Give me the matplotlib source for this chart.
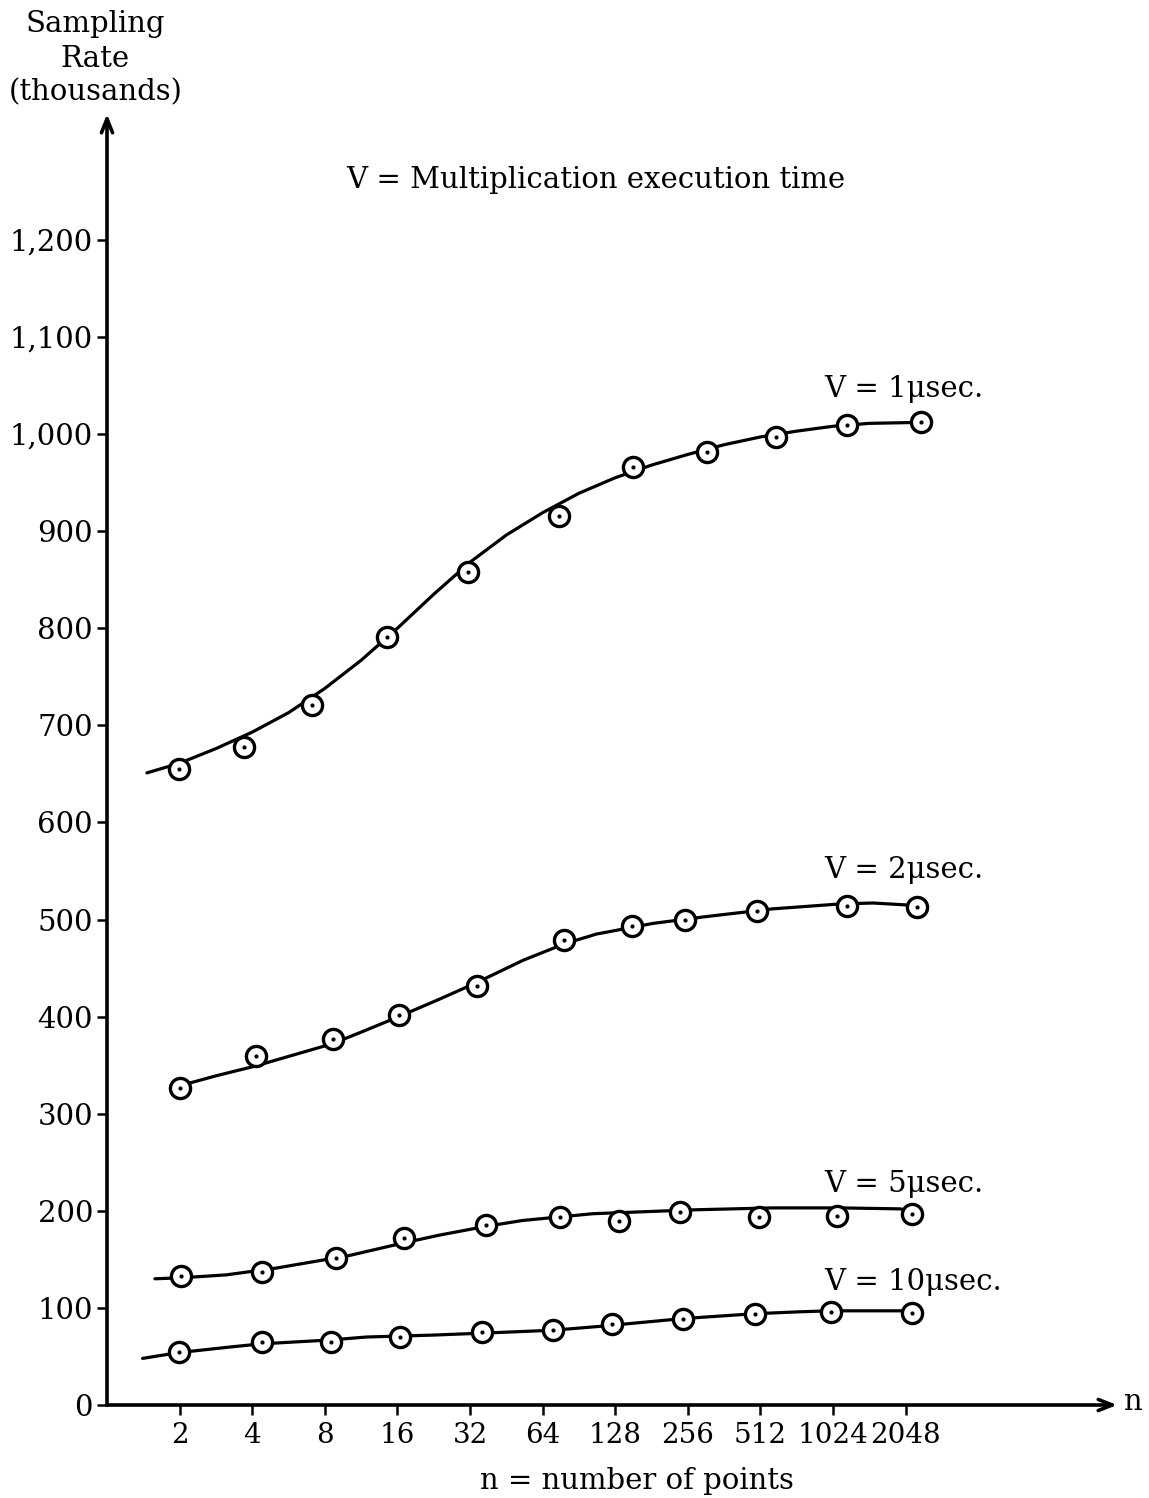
import matplotlib
matplotlib.use("Agg")
import matplotlib.pyplot as plt

# ---------------- data ----------------
n_labels = ["2", "4", "8", "16", "32", "64", "128", "256", "512", "1024", "2048"]
y_ticks = [0, 100, 200, 300, 400, 500, 600, 700, 800, 900, 1000, 1100, 1200]
y_tick_labels = ["0", "100", "200", "300", "400", "500", "600", "700", "800",
                 "900", "1,000", "1,100", "1,200"]

# x values are positions along the n axis, in tick-index units (2 -> 1, 4 -> 2, ... 2048 -> 11)
v1_x = [0.99, 1.88, 2.82, 3.85, 4.97, 6.22, 7.24, 8.26, 9.21, 10.19, 11.21]
v1_y = [655, 678, 721, 791, 858, 916, 966, 981, 997, 1009, 1012]
v1_curve_x = [0.55, 1.0, 1.5, 2.0, 2.5, 3.0, 3.5, 4.0, 4.5, 5.0, 5.5, 6.0, 6.5,
              7.0, 7.5, 8.0, 8.5, 9.0, 9.5, 10.0, 10.5, 11.21]
v1_curve_y = [651, 661, 676, 693, 713, 738, 767, 800, 835, 868, 896, 919, 939,
              955, 968, 979, 989, 997, 1003, 1008, 1011, 1012]

v2_x = [1.0, 2.05, 3.11, 4.02, 5.09, 6.30, 7.23, 7.96, 8.95, 10.19, 11.15]
v2_y = [326, 359, 377, 402, 432, 479, 493, 499, 509, 514, 513]
v2_curve_x = [1.11, 1.5, 2.04, 2.5, 3.10, 3.5, 4.02, 4.58, 5.09, 5.73, 6.30,
              6.74, 7.52, 8.25, 9.17, 10.09, 10.55, 11.01, 11.15]
v2_curve_y = [331, 339, 349, 359, 372, 384, 400, 418, 435, 458, 475,
              485, 496, 503, 511, 516, 517, 515, 514]

v5_x = [1.02, 2.13, 3.16, 4.09, 5.22, 6.24, 7.05, 7.89, 8.98, 10.05, 11.08]
v5_y = [133, 137, 151, 172, 185, 194, 190, 199, 194, 195, 197]
v5_curve_x = [0.66, 1.02, 1.64, 2.33, 3.34, 4.03, 4.58, 5.22, 5.72, 6.69,
              8.07, 9.17, 10.09, 10.92, 11.08]
v5_curve_y = [130, 131, 134, 141, 154, 166, 175, 184, 190, 197,
              201, 203, 203, 202, 200]

v10_x = [0.99, 2.13, 3.08, 4.04, 5.17, 6.14, 6.95, 7.93, 8.92, 9.97, 11.08]
v10_y = [55, 65, 65, 70, 75, 77, 83, 89, 94, 96, 95]
v10_curve_x = [0.49, 0.99, 1.73, 2.13, 3.08, 3.57, 4.49, 5.17, 6.14, 6.79,
               7.93, 8.92, 9.54, 9.97, 11.08]
v10_curve_y = [48, 54, 60, 63, 67, 70, 72, 74, 77, 81,
               89, 94, 96, 97, 97]

series_labels = ["V = 1\u03bcsec.", "V = 2\u03bcsec.", "V = 5\u03bcsec.", "V = 10\u03bcsec."]

# ---------------- figure ----------------
W, H = 1149, 1498
FONT = "DejaVu Serif"
FS = 21
plt.rcParams["font.family"] = [FONT, "DejaVu Sans"]

fig = plt.figure(figsize=(W / 100, H / 100), dpi=100)
fig.patch.set_facecolor("white")

def fx(x):
    return x / W

def fy(y):
    return 1 - y / H

ax = fig.add_axes([fx(107), fy(1405), fx(1117) - fx(107), fy(114) - fy(1405)])
ax.set_xlim(0, 13.91)
ax.set_ylim(0, 1329.6)

for s in ax.spines.values():
    s.set_visible(False)

# axes with arrows
ax.annotate("", xy=(0, 1), xytext=(0, 0), xycoords="axes fraction",
            arrowprops=dict(arrowstyle="->,head_length=1.0,head_width=0.4",
                            lw=2.6, color="black", shrinkA=0, shrinkB=0),
            annotation_clip=False)
ax.annotate("", xy=(1, 0), xytext=(0, 0), xycoords="axes fraction",
            arrowprops=dict(arrowstyle="->,head_length=1.0,head_width=0.4",
                            lw=2.6, color="black", shrinkA=0, shrinkB=0),
            annotation_clip=False)

ax.set_xticks(range(1, len(n_labels) + 1))
ax.set_xticklabels(n_labels)
ax.set_yticks(y_ticks)
ax.set_yticklabels(y_tick_labels)
ax.tick_params(axis="both", direction="out", length=7, width=1.8,
               colors="black")
ax.tick_params(axis="y", pad=3, labelsize=FS)
ax.tick_params(axis="x", pad=5, labelsize=20)
for lab in ax.get_xticklabels() + ax.get_yticklabels():
    lab.set_fontfamily(FONT)

curves = [(v1_curve_x, v1_curve_y, v1_x, v1_y),
          (v2_curve_x, v2_curve_y, v2_x, v2_y),
          (v5_curve_x, v5_curve_y, v5_x, v5_y),
          (v10_curve_x, v10_curve_y, v10_x, v10_y)]
for cx, cy, px, py in curves:
    ax.plot(cx, cy, color="black", lw=2.3, solid_capstyle="round",
            solid_joinstyle="round", zorder=2)
    ax.plot(px, py, linestyle="none", marker="o", ms=14.5, mfc="white",
            mec="black", mew=2.4, zorder=3)
    ax.plot(px, py, linestyle="none", marker="o", ms=3.0, mfc="black",
            mec="black", mew=0, zorder=4)

# series labels
label_baselines = [397, 878, 1192, 1290]
for txt, yb in zip(series_labels, label_baselines):
    fig.text(fx(824), fy(yb), txt, ha="left", va="baseline", fontsize=FS,
             family=FONT)

# titles / axis labels
fig.text(fx(596), fy(188), "V = Multiplication execution time", ha="center",
         va="baseline", fontsize=FS, family=FONT)
fig.text(fx(95), fy(32), "Sampling", ha="center", va="baseline", fontsize=FS, family=FONT)
fig.text(fx(95), fy(67), "Rate", ha="center", va="baseline", fontsize=FS, family=FONT)
fig.text(fx(96), fy(100), "(thousands)", ha="center", va="baseline", fontsize=FS, family=FONT)
fig.text(fx(637), fy(1489), "n = number of points", ha="center", va="baseline",
         fontsize=FS, family=FONT)
fig.text(fx(1124), fy(1410), "n", ha="left", va="baseline", fontsize=FS, family=FONT)

fig.savefig("out.png", dpi=100, facecolor="white")
